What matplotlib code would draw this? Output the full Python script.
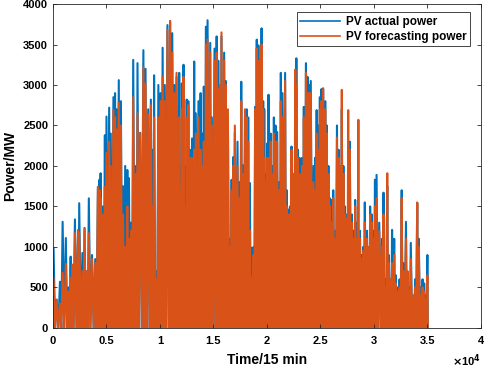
import numpy as np
import matplotlib
matplotlib.use('Agg')
import matplotlib.pyplot as plt
from matplotlib.ticker import FuncFormatter

# time step (15 min) of each daily peak
t = [50, 350, 650, 900, 1200, 1450, 1650, 1800, 2050, 2350, 2450, 2750, 2950, 3150,
     3350, 3650, 3950, 4200, 4350, 4450, 4650, 4850, 5000, 5250, 5400, 5650, 5800,
     5950, 6150, 6350, 6550, 6750, 6950, 7100, 7300, 7500, 7750, 7900, 8150, 8450,
     8650, 8900, 9150, 9300, 9450, 9650, 9850, 10050, 10250, 10450, 10700, 10950,
     11150, 11350, 11550, 11800, 11900, 12050, 12200, 12350, 12500, 12650, 12800,
     13000, 13200, 13350, 13600, 13800, 13950, 14100, 14300, 14450, 14700, 14850,
     15100, 15300, 15450, 15600, 15750, 16000, 16150, 16350, 16550, 16700, 16850,
     17000, 17250, 17400, 17600, 17750, 17950, 18100, 18250, 18400, 18600, 18750,
     18900, 19050, 19200, 19350, 19500, 19650, 19750, 19900, 20050, 20150, 20350,
     20500, 20650, 20800, 20950, 21150, 21300, 21450, 21700, 21850, 22000, 22150,
     22300, 22450, 22650, 22750, 22900, 23050, 23200, 23300, 23450, 23650, 23800,
     23950, 24100, 24350, 24500, 24650, 24800, 24950, 25100, 25250, 25450, 25600,
     25750, 25900, 26050, 26200, 26350, 26550, 26700, 26850, 27000, 27150, 27300,
     27450, 27600, 27750, 27950, 28100, 28250, 28400, 28550, 28700, 28850, 29000,
     29150, 29350, 29500, 29650, 29800, 29950, 30100, 30250, 30500, 30750, 30900,
     31050, 31250, 31400, 31550, 31700, 31900, 32050, 32250, 32400, 32600, 32750,
     33000, 33150, 33300, 33450, 33700, 33850, 34050, 34200, 34400, 34550, 34700,
     34850, 35000]

actual = [990, 350, 570, 1310, 1110, 500, 880, 780, 1340, 1210, 1540, 925, 1235, 700,
          1600, 900, 850, 1740, 1830, 1910, 1500, 2380, 2610, 2720, 2400, 2850, 2900,
          2700, 3060, 2800, 1750, 2000, 1950, 1850, 1300, 3310, 2000, 3270, 2410, 3430,
          3200, 2700, 2820, 2200, 3120, 700, 3000, 2900, 3460, 3000, 3740, 3790,
          3640, 3000, 3100, 3150, 2000, 3020, 3250, 2000, 2820, 2800, 2200,
          2340, 3290, 2650, 2800, 2900, 2400, 2980, 3720, 3800, 3520, 2600,
          3450, 3600, 3300, 3000, 3600, 3400, 3050, 2600, 1100, 1830, 2110,
          2410, 2300, 1800, 3040, 2010, 2600, 2700, 2600, 1790, 990, 1000,
          2730, 3560, 3490, 3300, 3700, 2800, 2700, 1900, 2280, 2880, 2400,
          2000, 2600, 2500, 2420, 1800, 3150, 2900, 3150, 1700, 1460, 1500,
          2240, 1670, 2700, 3330, 2200, 2100, 1300, 2100, 2730, 3270, 3100,
          3000, 3050, 2000, 2100, 2690, 2500, 2850, 2950, 2960, 2800, 2500,
          2000, 1600, 1580, 1700, 1200, 2500, 2200, 2000, 2700, 2000, 1500,
          1400, 1500, 2300, 1400, 1200, 1580, 1300, 1100, 1200, 900, 1000,
          1550, 1200, 1000, 1500, 1400, 1200, 1830, 1890, 1300, 1100, 1670,
          600, 1750, 900, 600, 1210, 1100, 650, 500, 600, 1700, 800,
          1310, 600, 500, 1050, 400, 600, 1540, 1100, 500, 600, 550,
          400, 900]

forecast = [615, 345, 300, 680, 790, 450, 620, 780, 1170, 1200, 1170, 700, 1220, 700,
            1170, 850, 800, 1740, 1700, 1600, 1400, 1740, 2160, 2300, 2000, 2690, 2600,
            2450, 2780, 2500, 1400, 1000, 1500, 1100, 1200, 2850, 1900, 2650, 2400, 3220,
            3020, 2640, 2750, 1500, 2600, 600, 2600, 2800, 3100, 2800, 3680, 3790,
            3400, 2900, 3150, 2600, 1700, 2700, 3100, 1500, 2600, 2750, 2100,
            2100, 2200, 2400, 2600, 2200, 2000, 2300, 3500, 3560, 3400, 2500,
            3300, 3400, 2950, 3000, 3650, 3300, 3000, 2700, 1000, 1700, 2000,
            2500, 2000, 1600, 2800, 1900, 2700, 2600, 2300, 1200, 620, 900,
            2700, 3450, 3300, 3300, 3500, 2700, 2100, 1800, 2100, 2100, 2300,
            1900, 2400, 2300, 2300, 1700, 2800, 2600, 3050, 1500, 1400, 1400,
            2200, 1900, 3190, 3000, 2100, 1900, 1200, 2000, 2600, 3150, 2900,
            2900, 2900, 1800, 1700, 2400, 2200, 2700, 2800, 2950, 2700, 2400,
            1900, 1500, 1300, 1600, 1100, 2350, 2100, 2000, 2940, 1900, 1400,
            1350, 2690, 2200, 1300, 1100, 1500, 1100, 2570, 1100, 850, 950,
            1300, 1100, 1000, 1400, 1300, 1100, 1500, 1600, 1200, 1000, 1400,
            500, 1910, 800, 600, 800, 900, 550, 450, 500, 1600, 700,
            1100, 700, 450, 850, 400, 500, 1550, 1000, 400, 500, 450,
            350, 650]


def day_night(times, peaks):
    # each day rises to its peak and falls back to zero at night
    times = np.asarray(times, dtype=float)
    peaks = np.asarray(peaks, dtype=float)
    xs = np.empty(2 * len(times) + 1)
    ys = np.zeros(2 * len(times) + 1)
    xs[1::2] = times
    ys[1::2] = peaks
    xs[2:-1:2] = (times[:-1] + times[1:]) / 2
    xs[0] = 0
    xs[-1] = times[-1] + 40
    return xs, ys


plt.rcParams['font.family'] = 'Liberation Sans'
plt.rcParams['font.weight'] = 'bold'

fig = plt.figure(figsize=(4.84, 3.68), dpi=100)
ax = fig.add_axes([0.1095, 0.109, 0.884, 0.880])

xa, ya = day_night(t, actual)
xf, yf = day_night(t, forecast)
ax.plot(xa, ya, color='#0072BD', lw=1.5, label='PV actual power')
ax.plot(xf, yf, color='#D95319', lw=1.5, label='PV forecasting power')

ax.set_xlim(0, 40000)
ax.set_ylim(0, 4000)
ax.set_xticks(np.arange(0, 40001, 5000))
ax.set_yticks(np.arange(0, 4001, 500))
ax.xaxis.set_major_formatter(FuncFormatter(lambda v, p: '%g' % (v / 1e4)))
ax.tick_params(direction='in', top=True, right=True, labelsize=8, length=3,
               width=0.6, colors='#262626', labelcolor='black')
ax.tick_params(axis='x', pad=6)
for s in ax.spines.values():
    s.set_color('#262626')
    s.set_linewidth(0.6)
ax.set_axisbelow(False)

ax.set_xlabel('Time/15 min', fontsize=10, fontweight='bold', labelpad=5)
ax.set_ylabel('Power/MW', fontsize=10, fontweight='bold', labelpad=4)
ax.text(1.0, -0.076, r'$\times$10$^{4}$', transform=ax.transAxes, ha='right',
        va='top', fontsize=8, fontweight='bold')

leg = ax.legend(loc='upper right', fontsize=8.5, fancybox=False, framealpha=1,
                edgecolor='#262626', bbox_to_anchor=(0.974, 0.975), borderaxespad=0,
                handlelength=3.4, handletextpad=0.45, borderpad=0.3,
                labelspacing=0.25)
leg.get_frame().set_linewidth(0.6)
for line in leg.get_lines():
    line.set_linewidth(1.2)

plt.savefig('out.png', dpi=100)
